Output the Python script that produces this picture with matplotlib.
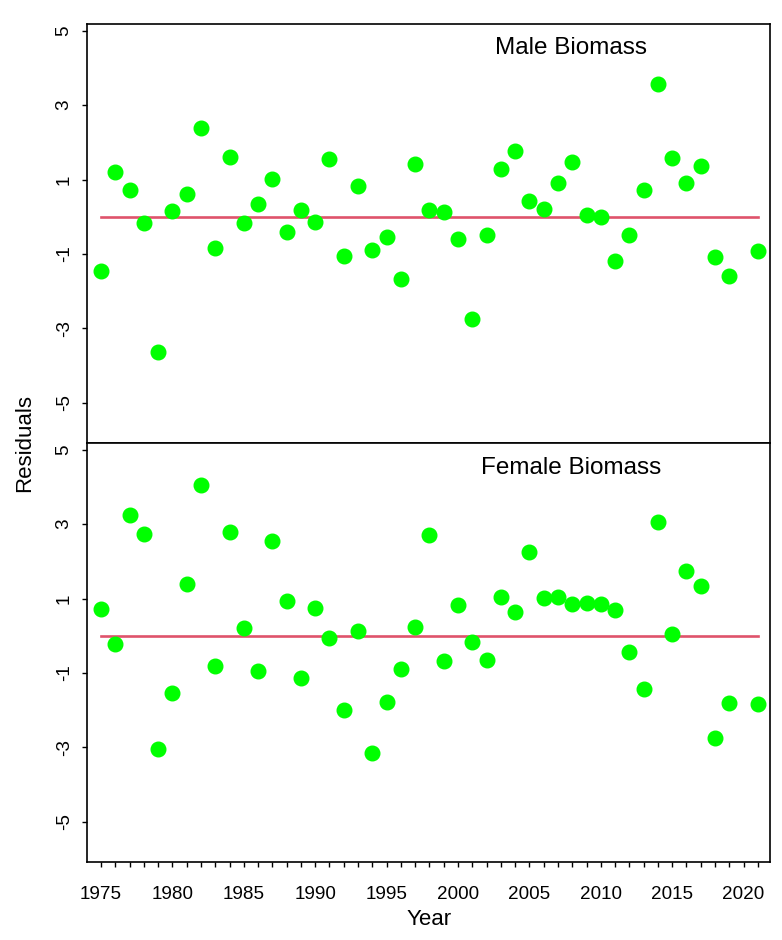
import numpy as np
import matplotlib
matplotlib.use("Agg")
import matplotlib.pyplot as plt

plt.rcParams['font.family'] = ['Liberation Sans', 'DejaVu Sans']

# residuals
male_years = [1975, 1976, 1977, 1978, 1979, 1980, 1981, 1982, 1983, 1984,
              1985, 1986, 1987, 1988, 1989, 1990, 1991, 1992, 1993, 1994,
              1995, 1996, 1997, 1998, 1999, 2000, 2001, 2002, 2003, 2004,
              2005, 2006, 2007, 2008, 2009, 2010, 2011, 2012, 2013, 2014,
              2015, 2016, 2017, 2018, 2019, 2021]
male_resid = [-1.47, 1.20, 0.72, -0.16, -3.64, 0.15, 0.60, 2.38, -0.84, 1.61,
              -0.16, 0.34, 1.01, -0.42, 0.19, -0.13, 1.56, -1.06, 0.82, -0.90,
              -0.55, -1.67, 1.43, 0.19, 0.12, -0.61, -2.75, -0.48, 1.27, 1.78,
              0.41, 0.21, 0.92, 1.46, 0.04, -0.01, -1.18, -0.48, 0.72, 3.56,
              1.59, 0.92, 1.37, -1.09, -1.60, -0.92]

female_years = male_years
female_resid = [0.72, -0.21, 3.25, 2.73, -3.03, -1.55, 1.39, 4.05, -0.82, 2.79,
                0.21, -0.95, 2.54, 0.94, -1.14, 0.75, -0.05, -1.99, 0.14, -3.15,
                -1.78, -0.88, 0.24, 2.70, -0.69, 0.82, -0.18, -0.66, 1.04, 0.63,
                2.24, 1.01, 1.04, 0.86, 0.88, 0.86, 0.68, -0.43, -1.42, 3.05,
                0.05, 1.74, 1.33, -2.74, -1.81, -1.84]

panels = [("Male Biomass", male_years, male_resid),
          ("Female Biomass", female_years, female_resid)]

fig = plt.figure(figsize=(7.82, 9.40), dpi=100)
W, H = 782, 940
left, right = 87.3, 770
tops = [24, 443]
bots = [443, 862]

axes = []
for i, (title, yrs, res) in enumerate(panels):
    ax = fig.add_axes([left / W, 1 - bots[i] / H, (right - left) / W,
                       (bots[i] - tops[i]) / H])
    ax.plot(yrs, res, 'o', color='#00FF00', markersize=10.5, zorder=3)
    ax.plot([1975, 2021], [0, 0], color='#DF536B', linewidth=1.9, zorder=2)
    ax.set_xlim(1974.04, 2021.85)
    ax.set_ylim(-6.08, 5.18)
    ax.set_yticks([-5, -3, -1, 1, 3, 5])
    ax.set_yticklabels(['-5', '-3', '-1', '1', '3', '5'], rotation=90,
                       va='center')
    ax.tick_params(axis='y', direction='out', length=3.5, width=1,
                   labelsize=13.6, pad=7)
    ax.text(0.708, 0.928 if i == 0 else 0.925, title, transform=ax.transAxes,
            ha='center', va='baseline', fontsize=17.5)
    for s in ax.spines.values():
        s.set_linewidth(1.2)
    axes.append(ax)

axes[0].tick_params(axis='x', bottom=False, labelbottom=False)
axes[1].set_xticks(np.arange(1975, 2022))
axes[1].set_xticklabels([str(y) if y % 5 == 0 else '' for y in range(1975, 2022)])
axes[1].tick_params(axis='x', direction='out', length=3.5, width=1,
                    labelsize=13.6, pad=14)
axes[1].set_xlabel("Year", fontsize=16, labelpad=4)

fig.text(25 / W, 1 - 443 / H, "Residuals", rotation=90, ha='center',
         va='center', fontsize=16)

fig.savefig("out.png", dpi=100)
